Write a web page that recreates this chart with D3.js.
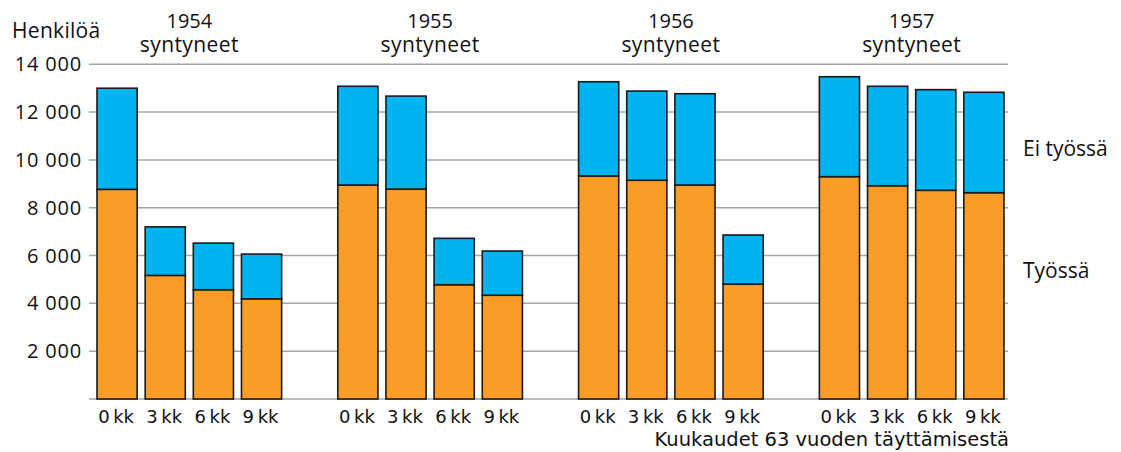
<!DOCTYPE html>
<html lang="fi">
<head>
<meta charset="utf-8">
<title>Henkilöä</title>
<script src="https://d3js.org/d3.v7.min.js"></script>
<style>
  body { margin: 0; background: #fff; }
  svg text { fill: #111; }
</style>
</head>
<body>
<svg id="chart" width="1121" height="452"></svg>
<script>
// data
var years = ["1954", "1955", "1956", "1957"];
var months = ["0", "3", "6", "9"];
var tyossa = [
  [8770, 5170, 4570, 4190],
  [8950, 8780, 4780, 4340],
  [9330, 9150, 8950, 4810],
  [9300, 8920, 8730, 8630]
];
var eiTyossa = [
  [4230, 2030, 1950, 1870],
  [4130, 3890, 1940, 1850],
  [3940, 3730, 3820, 2050],
  [4180, 4160, 4210, 4200]
];
var yTicks = [2000, 4000, 6000, 8000, 10000, 12000, 14000];

var orange = "#F99D26", blue = "#00B5EF";

var svg = d3.select("#chart");

// flat table + gap slots between year groups
var rows = [], keys = [];
years.forEach(function(y, g) {
  months.forEach(function(m, i) {
    var k = y + "-" + m;
    keys.push(k);
    rows.push({ key: k, year: y, month: m, tyossa: tyossa[g][i], ei: eiTyossa[g][i] });
  });
  if (g < years.length - 1) keys.push("gap" + g);
});

var x = d3.scaleBand()
  .domain(keys)
  .range([93, 1008])
  .paddingInner(0.166)
  .paddingOuter(0.083);

var y = d3.scaleLinear()
  .domain([0, 14000])
  .range([399, 64.3]);

// gridlines
svg.append("g").selectAll("line")
  .data([0].concat(yTicks))
  .enter().append("line")
  .attr("x1", 89).attr("x2", 1008)
  .attr("y1", function(d) { return y(d); })
  .attr("y2", function(d) { return y(d); })
  .attr("stroke", "#a6a6a6")
  .attr("stroke-width", 1.5);

// y tick labels
var fmt = function(v) { return d3.format(",")(v).replace(",", "\u00a0"); };
svg.append("g").selectAll("text")
  .data(yTicks)
  .enter().append("text")
  .attr("x", 82)
  .attr("y", function(d) { return y(d) + 7; })
  .attr("text-anchor", "end")
  .attr("font-family", "'Open Sans', sans-serif")
  .attr("font-size", "20px")
  .attr("letter-spacing", "0.8px")
  .text(fmt);

svg.append("text")
  .attr("x", 12).attr("y", 38)
  .attr("font-family", "'Open Sans', sans-serif")
  .attr("font-size", "21px")
  .attr("letter-spacing", "0.3px")
  .text("Henkilöä");

// stacked bars
var stack = d3.stack().keys(["tyossa", "ei"]);
var series = stack(rows);
var colors = { tyossa: orange, ei: blue };

svg.append("g").selectAll("g")
  .data(series)
  .enter().append("g")
  .attr("fill", function(s) { return colors[s.key]; })
  .selectAll("rect")
  .data(function(s) { return s; })
  .enter().append("rect")
  .attr("x", function(d) { return x(d.data.key); })
  .attr("width", x.bandwidth())
  .attr("y", function(d) { return y(d[1]); })
  .attr("height", function(d) { return y(d[0]) - y(d[1]); })
  .attr("stroke", "#1a1a1a")
  .attr("stroke-width", 1.6);

// month labels under bars
svg.append("g").selectAll("text")
  .data(rows)
  .enter().append("text")
  .attr("x", function(d) { return x(d.key) + x.bandwidth() / 2 - 1; })
  .attr("y", 423)
  .attr("text-anchor", "middle")
  .attr("font-family", "'DejaVu Sans', sans-serif")
  .attr("font-size", "18px")
  .text(function(d) { return d.month + "\u2009kk"; });

// year group titles
var groupTitle = svg.append("g").selectAll("g")
  .data(years)
  .enter().append("g")
  .attr("transform", function(yr) {
    var a = x(yr + "-0"), b = x(yr + "-9") + x.bandwidth();
    return "translate(" + ((a + b) / 2) + ",0)";
  });
groupTitle.append("text")
  .attr("y", 28)
  .attr("text-anchor", "middle")
  .attr("font-family", "'Open Sans', sans-serif")
  .attr("font-size", "20px")
  .text(function(yr) { return yr; });
groupTitle.append("text")
  .attr("y", 52)
  .attr("text-anchor", "middle")
  .attr("font-family", "'Open Sans', sans-serif")
  .attr("font-size", "21px")
  .attr("letter-spacing", "0.4px")
  .text("syntyneet");

// legend labels at right
svg.append("text")
  .attr("x", 1023).attr("y", 156)
  .attr("font-family", "'Open Sans', sans-serif")
  .attr("font-size", "21px")
  .text("Ei työssä");
svg.append("text")
  .attr("x", 1023).attr("y", 278)
  .attr("font-family", "'Open Sans', sans-serif")
  .attr("font-size", "21px")
  .text("Työssä");

// x axis title
svg.append("text")
  .attr("x", 1009).attr("y", 446)
  .attr("text-anchor", "end")
  .attr("font-family", "'DejaVu Sans', sans-serif")
  .attr("font-size", "19.5px")
  .text("Kuukaudet 63 vuoden täyttämisestä");
</script>
</body>
</html>
